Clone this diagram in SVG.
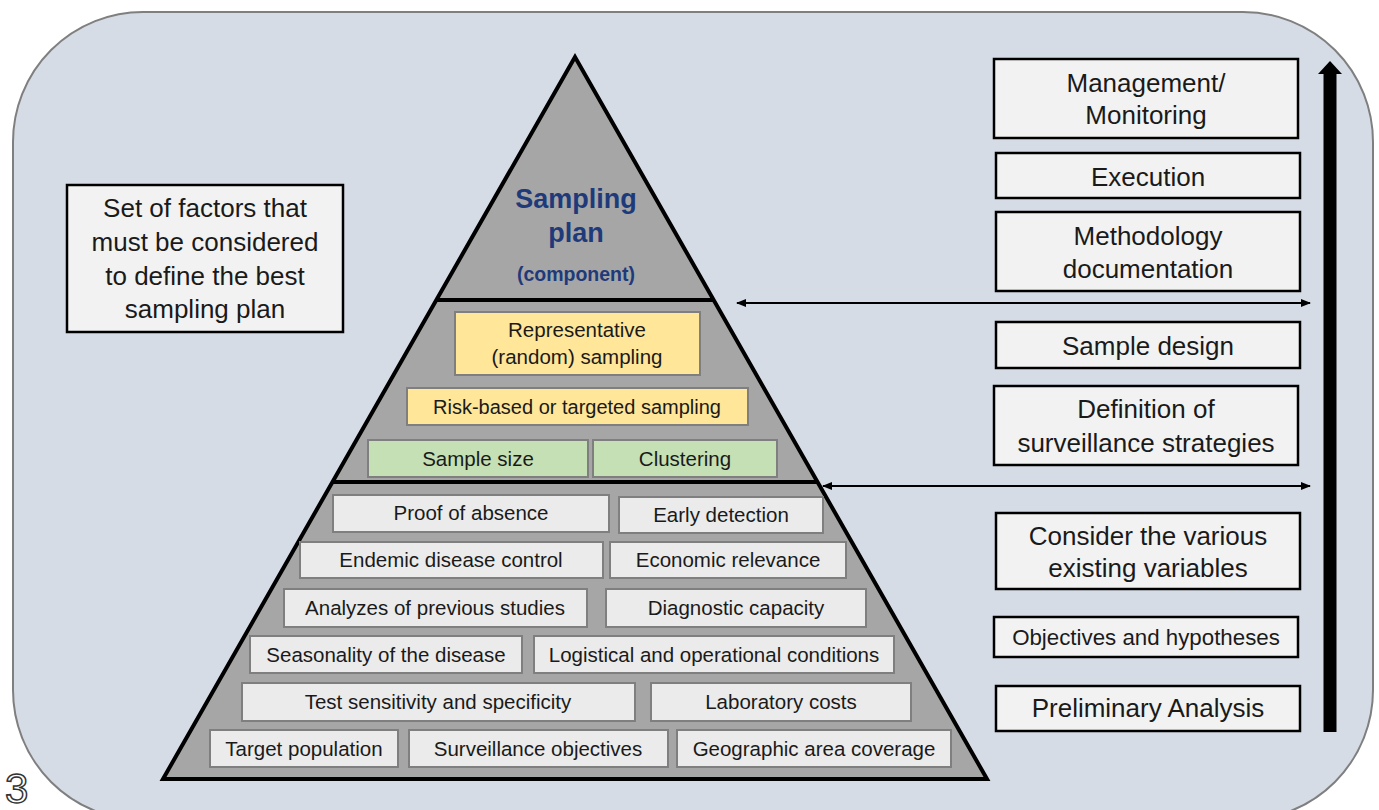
<svg xmlns="http://www.w3.org/2000/svg" width="1379" height="810" viewBox="0 0 1379 810">
<style>
text{font-family:"Liberation Sans",Arial,sans-serif;fill:#1a1a1a;text-anchor:middle}
.bg{fill:#d6dce5;stroke:#7f7f7f;stroke-width:2}
.pyr{fill:#a6a6a6;stroke:#000;stroke-width:4;stroke-linejoin:miter}
.sep{stroke:#000;stroke-width:4}
.yel{fill:#ffe699;stroke:#7f7f7f;stroke-width:2}
.grn{fill:#c5e0b4;stroke:#7f7f7f;stroke-width:2}
.lg{fill:#ebebeb;stroke:#7f7f7f;stroke-width:2}
.wb{fill:#f2f2f2;stroke:#000;stroke-width:2.5}
.t19{font-size:20.5px}
.t17{font-size:20px}
.t25{font-size:26px}
.title{fill:#1f3a7a;font-weight:bold}
.conn{stroke:#000;stroke-width:2;fill:none}
</style>
<defs>
<marker id="ah" viewBox="0 0 10 10" refX="9" refY="5" markerWidth="5" markerHeight="5" orient="auto-start-reverse" markerUnits="strokeWidth"><path d="M0,1 L10,5 L0,9 Z" fill="#000"/></marker>
</defs>
<rect class="bg" x="13" y="12" width="1360" height="808" rx="130" ry="130"/>
<text x="5" y="803" style="font-size:42px;fill:#fff;stroke:#333;stroke-width:1.5;text-anchor:start">3</text>

<g id="pyramid">
<polygon class="pyr" points="575,57 163,779 987,779"/>
<line class="sep" x1="436" y1="300" x2="714" y2="300"/>
<line class="sep" x1="333" y1="482" x2="818" y2="482"/>
<text class="title" x="576" y="208" style="font-size:27px">Sampling</text>
<text class="title" x="576" y="242" style="font-size:27px">plan</text>
<text class="title" x="576" y="281" style="font-size:19.5px">(component)</text>
</g>

<g id="factors-box">
<rect class="wb" x="67" y="185" width="276" height="147"/>
<text class="t25" x="205" y="217">Set of factors that</text>
<text class="t25" x="205" y="251">must be considered</text>
<text class="t25" x="205" y="285">to define the best</text>
<text class="t25" x="205" y="318">sampling plan</text>
</g>

<g id="representative"><rect class="yel" x="455" y="312" width="245" height="63"/><text class="t19" x="577" y="337">Representative</text><text class="t19" x="577" y="364">(random) sampling</text></g>
<g id="risk-based"><rect class="yel" x="407" y="388" width="341" height="37"/><text class="t17" x="577" y="414">Risk-based or targeted sampling</text></g>
<g id="sample-size"><rect class="grn" x="368" y="440" width="220" height="37"/><text class="t19" x="478" y="466">Sample size</text></g>
<g id="clustering"><rect class="grn" x="593" y="440" width="184" height="37"/><text class="t19" x="685" y="466">Clustering</text></g>

<g id="proof-absence"><rect class="lg" x="333" y="495" width="276" height="37"/><text class="t19" x="471" y="520">Proof of absence</text></g>
<g id="early-detection"><rect class="lg" x="619" y="497" width="204" height="36"/><text class="t19" x="721" y="522">Early detection</text></g>
<g id="endemic"><rect class="lg" x="300" y="542" width="303" height="36"/><text class="t19" x="451" y="567">Endemic disease control</text></g>
<g id="economic"><rect class="lg" x="610" y="542" width="236" height="36"/><text class="t19" x="728" y="567">Economic relevance</text></g>
<g id="analyzes"><rect class="lg" x="284" y="589" width="303" height="38"/><text class="t19" x="435" y="615">Analyzes of previous studies</text></g>
<g id="diagnostic"><rect class="lg" x="606" y="589" width="260" height="38"/><text class="t19" x="736" y="615">Diagnostic capacity</text></g>
<g id="seasonality"><rect class="lg" x="250" y="636" width="272" height="37"/><text class="t19" x="386" y="662">Seasonality of the disease</text></g>
<g id="logistical"><rect class="lg" x="534" y="636" width="360" height="37"/><text class="t19" x="714" y="662">Logistical and operational conditions</text></g>
<g id="test-sensitivity"><rect class="lg" x="242" y="683" width="393" height="38"/><text class="t19" x="438" y="709">Test sensitivity and specificity</text></g>
<g id="lab-costs"><rect class="lg" x="651" y="683" width="260" height="38"/><text class="t19" x="781" y="709">Laboratory costs</text></g>
<g id="target-pop"><rect class="lg" x="210" y="730" width="188" height="37"/><text class="t19" x="304" y="756">Target population</text></g>
<g id="surv-objectives"><rect class="lg" x="409" y="730" width="259" height="37"/><text class="t19" x="538" y="756">Surveillance objectives</text></g>
<g id="geographic"><rect class="lg" x="677" y="730" width="274" height="37"/><text class="t19" x="814" y="756">Geographic area coverage</text></g>

<g id="management"><rect class="wb" x="994" y="59" width="304" height="79"/><text class="t25" x="1146" y="92">Management/</text><text class="t25" x="1146" y="124">Monitoring</text></g>
<g id="execution"><rect class="wb" x="996" y="153" width="304" height="45"/><text class="t25" x="1148" y="186">Execution</text></g>
<g id="methodology"><rect class="wb" x="996" y="212" width="304" height="79"/><text class="t25" x="1148" y="245">Methodology</text><text class="t25" x="1148" y="278">documentation</text></g>
<g id="sample-design"><rect class="wb" x="996" y="322" width="304" height="46"/><text class="t25" x="1148" y="355">Sample design</text></g>
<g id="definition"><rect class="wb" x="994" y="386" width="304" height="79"/><text class="t25" x="1146" y="418">Definition of</text><text class="t25" x="1146" y="452">surveillance strategies</text></g>
<g id="consider"><rect class="wb" x="996" y="513" width="304" height="76"/><text class="t25" x="1148" y="545">Consider the various</text><text class="t25" x="1148" y="577">existing variables</text></g>
<g id="objectives"><rect class="wb" x="994" y="617" width="304" height="40"/><text x="1146" y="645" style="font-size:22.3px">Objectives and hypotheses</text></g>
<g id="preliminary"><rect class="wb" x="996" y="686" width="304" height="45"/><text class="t25" x="1148" y="717">Preliminary Analysis</text></g>

<g id="connectors">
<line class="conn" x1="737" y1="303" x2="1310" y2="303" marker-start="url(#ah)" marker-end="url(#ah)"/>
<line class="conn" x1="823" y1="486" x2="1310" y2="486" marker-start="url(#ah)" marker-end="url(#ah)"/>
<rect x="1323.5" y="72" width="13" height="660" fill="#000"/>
<polygon points="1330,61 1342,74 1318,74" fill="#000"/>
</g>
</svg>
